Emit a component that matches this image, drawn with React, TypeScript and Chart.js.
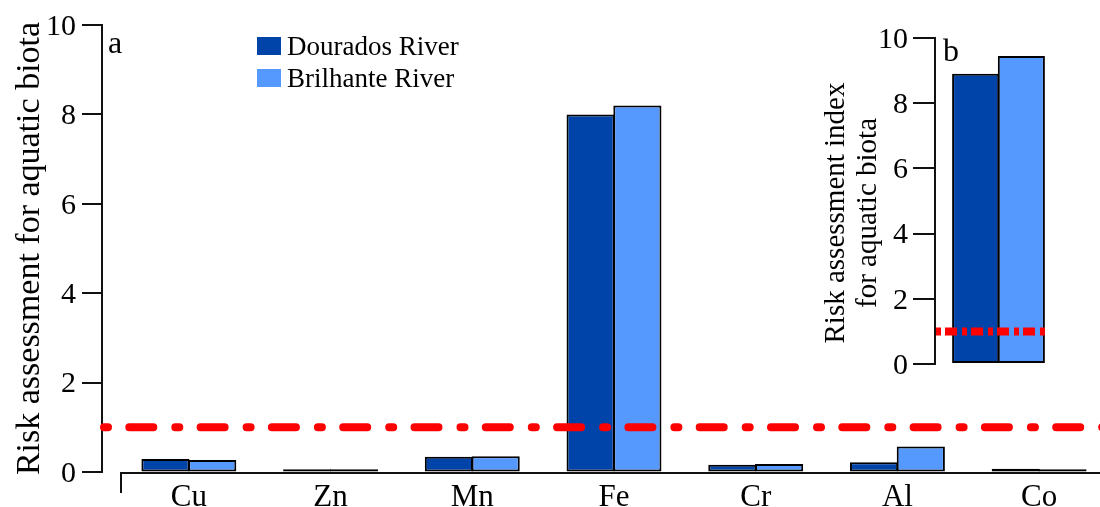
import React, { useEffect, useRef } from "react";
import { Chart, registerables } from "chart.js";

Chart.register(...registerables);

// ---------- data ----------
const elements = ["Cu", "Zn", "Mn", "Fe", "Cr", "Al", "Co"];
const douradosValues = [0.29, 0.06, 0.34, 8.0, 0.16, 0.22, 0.07];
const brilhanteValues = [0.27, 0.06, 0.35, 8.2, 0.18, 0.57, 0.06];
const seriesNames = ["Dourados River", "Brilhante River"];
const seriesColors = ["#0044AA", "#5599FF"];
const yTickValues = [0, 2, 4, 6, 8, 10];
const insetCategory = ["Total"];
const insetDourados = [8.9];
const insetBrilhante = [9.45];
const threshold = 1;
const mainYTitle = "Risk assessment for aquatic biota";
const insetYTitle = ["Risk assessment index", "for aquatic biota"];
const panelLabels = ["a", "b"];

const FONT = "'Liberation Serif', 'Times New Roman', serif";

const mainDecor = {
  id: "mainDecor",
  afterDatasetsDraw(chart: any) {
    const { ctx, chartArea, scales } = chart;
    const y = scales.y;
    const axisX = chartArea.left - 16;
    ctx.save();
    // y axis line and ticks
    ctx.strokeStyle = "#111";
    ctx.lineWidth = 2;
    ctx.beginPath();
    ctx.moveTo(axisX, Math.round(y.getPixelForValue(y.max)) - 1);
    ctx.lineTo(axisX, Math.round(y.getPixelForValue(y.min)) + 1);
    y.ticks.forEach((t: any) => {
      const py = Math.round(y.getPixelForValue(t.value));
      ctx.moveTo(axisX - 20, py);
      ctx.lineTo(axisX + 1, py);
    });
    ctx.stroke();
    // x axis line with left end tick
    const by = chartArea.bottom + 1;
    ctx.beginPath();
    ctx.moveTo(chartArea.left + 3, by + 20);
    ctx.lineTo(chartArea.left + 3, by);
    ctx.lineTo(chartArea.right, by);
    ctx.stroke();
    // threshold line
    const ty = y.getPixelForValue(threshold);
    ctx.strokeStyle = "#FF0000";
    ctx.lineWidth = 8;
    ctx.lineCap = "round";
    ctx.setLineDash([4, 21.3, 24, 22]);
    ctx.beginPath();
    ctx.moveTo(axisX + 2, ty);
    ctx.lineTo(chartArea.right, ty);
    ctx.stroke();
    ctx.setLineDash([]);
    // panel label
    ctx.fillStyle = "#000";
    ctx.font = `32px ${FONT}`;
    ctx.textBaseline = "alphabetic";
    ctx.textAlign = "left";
    ctx.fillText(panelLabels[0], axisX + 6, 53);
    // legend
    ctx.font = `27px ${FONT}`;
    chart.data.datasets.forEach((ds: any, i: number) => {
      const top = 37 + i * 32;
      ctx.fillStyle = ds.backgroundColor;
      ctx.fillRect(257, top, 24, 18);
      ctx.fillStyle = "#000";
      ctx.fillText(ds.label, 287, top + 18);
    });
    ctx.restore();
  },
};

const insetDecor = {
  id: "insetDecor",
  afterDatasetsDraw(chart: any) {
    const { ctx, chartArea, scales } = chart;
    const y = scales.y;
    ctx.save();
    // threshold line up to right edge of last bar
    const meta = chart.getDatasetMeta(chart.data.datasets.length - 1);
    const bar = meta.data[0] as any;
    const right = bar.x + bar.width / 2;
    const ty = y.getPixelForValue(threshold);
    ctx.strokeStyle = "#FF0000";
    ctx.lineWidth = 8;
    ctx.lineCap = "butt";
    ctx.setLineDash([5, 4, 12, 5]);
    ctx.beginPath();
    ctx.moveTo(chartArea.left + 1, ty);
    ctx.lineTo(right, ty);
    ctx.stroke();
    ctx.setLineDash([]);
    // panel label
    ctx.fillStyle = "#000";
    ctx.font = `32px ${FONT}`;
    ctx.textAlign = "left";
    ctx.textBaseline = "alphabetic";
    ctx.fillText(panelLabels[1], chartArea.left + 8, 61);
    // title, two centered lines rotated
    ctx.font = `29px ${FONT}`;
    ctx.textAlign = "center";
    ctx.textBaseline = "middle";
    ctx.translate(36, 213);
    ctx.rotate(-Math.PI / 2);
    insetYTitle.forEach((line, i) => {
      ctx.fillText(line, 0, i * 32);
    });
    ctx.restore();
  },
};

const barStyle = {
  borderColor: "#000",
  borderWidth: 2,
  borderSkipped: false as const,
  barPercentage: 1.03,
};

export default function App() {
  const mainRef = useRef<HTMLCanvasElement>(null);
  const insetRef = useRef<HTMLCanvasElement>(null);

  useEffect(() => {
    const yMin = yTickValues[0];
    const yMax = yTickValues[yTickValues.length - 1];
    const yStep = yTickValues[1] - yTickValues[0];

    const main = new Chart(mainRef.current as HTMLCanvasElement, {
      type: "bar",
      data: {
        labels: elements,
        datasets: [
          { label: seriesNames[0], data: douradosValues, backgroundColor: seriesColors[0], ...barStyle, categoryPercentage: 0.66 },
          { label: seriesNames[1], data: brilhanteValues, backgroundColor: seriesColors[1], ...barStyle, categoryPercentage: 0.66 },
        ],
      },
      options: {
        responsive: false,
        animation: false,
        events: [],
        layout: { padding: { top: 25, right: 10, left: 0, bottom: 0 } },
        plugins: { legend: { display: false }, tooltip: { enabled: false } },
        scales: {
          x: {
            type: "category",
            offset: true,
            grid: { display: false, drawTicks: false },
            border: { display: false },
            ticks: { font: { family: FONT, size: 31 }, color: "#000", padding: 7, maxRotation: 0, autoSkip: false },
            afterFit: (s: any) => { s.height = 35; },
          },
          y: {
            min: yMin,
            max: yMax,
            ticks: { stepSize: yStep, font: { family: FONT, size: 30 }, color: "#000", padding: 2, labelOffset: 2 },
            grid: { display: true, drawOnChartArea: false, drawTicks: true, tickLength: 40, color: "rgba(0,0,0,0)" },
            border: { display: false },
            title: {
              display: true,
              text: mainYTitle,
              font: { family: FONT, size: 34 },
              color: "#000",
              padding: { top: 10, bottom: 0 },
            },
            afterFit: (s: any) => { s.width = 118; },
          },
        },
      } as any,
      plugins: [mainDecor],
    });

    const inset = new Chart(insetRef.current as HTMLCanvasElement, {
      type: "bar",
      data: {
        labels: insetCategory,
        datasets: [
          { label: seriesNames[0], data: insetDourados, backgroundColor: seriesColors[0], ...barStyle, categoryPercentage: 0.72 },
          { label: seriesNames[1], data: insetBrilhante, backgroundColor: seriesColors[1], ...barStyle, categoryPercentage: 0.72 },
        ],
      },
      options: {
        responsive: false,
        animation: false,
        events: [],
        layout: { padding: { top: 38, right: 38, left: 0, bottom: 36 } },
        plugins: { legend: { display: false }, tooltip: { enabled: false } },
        scales: {
          x: { type: "category", display: false, offset: true },
          y: {
            min: yMin,
            max: yMax,
            ticks: { stepSize: yStep, font: { family: FONT, size: 30 }, color: "#000", padding: 5, labelOffset: 2 },
            grid: { display: true, drawOnChartArea: false, drawTicks: true, tickLength: 22, color: "#111", lineWidth: 2 },
            border: { display: true, color: "#111", width: 2 },
            afterFit: (s: any) => { s.width = 135; },
          },
        },
      } as any,
      plugins: [insetDecor],
    });

    return () => {
      main.destroy();
      inset.destroy();
    };
  }, []);

  return (
    <div style={{ position: "fixed", left: 0, top: 0, width: 1100, height: 507, overflow: "hidden", background: "#fff" }}>
      <canvas ref={mainRef} width={1120} height={507} style={{ position: "absolute", left: 0, top: 0, width: 1120, height: 507 }} />
      <canvas ref={insetRef} width={300} height={400} style={{ position: "absolute", left: 800, top: 0, width: 300, height: 400 }} />
    </div>
  );
}
